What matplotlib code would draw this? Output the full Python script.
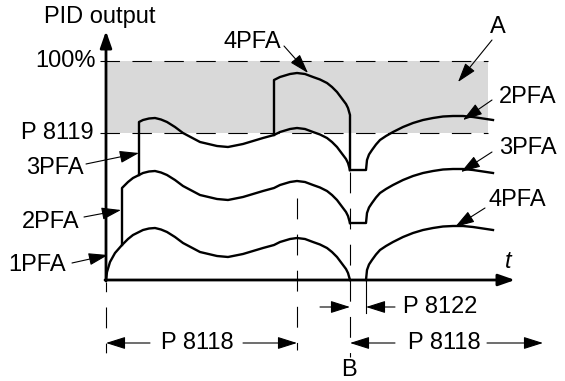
import matplotlib.pyplot as plt
import numpy as np

plt.rcParams['font.family'] = ['Liberation Sans', 'DejaVu Sans']
plt.rcParams['lines.scale_dashes'] = False

# diagram frame: x grows right, y grows down (same units as the sheet)
# shape of the PID output while one pump runs (1PFA)
base_x = [106, 107, 110, 115, 122, 128, 133, 139, 143, 149, 155, 161, 167, 175,
          183, 200, 217, 228, 243, 263, 274, 280, 290, 297, 305, 313, 320, 327,
          332, 337, 343, 346, 348, 350]
base_y = [280, 272, 262, 253, 245, 239, 235, 232, 230, 228.5, 228, 229.5, 232, 237,
          243, 252, 256, 257, 254, 248, 245, 242, 239, 238, 239, 242, 244.5, 248,
          252, 257, 265, 269, 273, 280]

# recovery after the autochange stop (B)
rec_x = [366, 367, 369, 372, 376, 380, 386, 393, 403, 413, 423, 433, 443, 453,
         463, 473, 483, 493]
rec_y = [280, 270, 264.5, 260, 254.5, 250, 246, 242, 237, 233, 230, 228, 226.5, 226,
         226, 227, 228.5, 230]

stage_start = [106, 122, 139, 274]   # where 1PFA..4PFA start
stage_lift = [0, 57, 110, 165]       # how far each pump lifts the curve
rec_lift = [0, 57, 110]

y_full = 61     # 100%
y_p8119 = 133
x_axis_y = 280
x_stop = 350    # B
x_restart = 366
x_p8118 = 297

base_x = np.array(base_x)
base_y = np.array(base_y)
rec_x = np.array(rec_x)
rec_y = np.array(rec_y)

fig = plt.figure(figsize=(5.65, 3.81), dpi=100)
ax = fig.add_axes([0, 0, 1, 1])
ax.set_xlim(0, 565)
ax.set_ylim(381, 0)
ax.axis('off')

FS = 17
lw_curve = 1.7

# grey band between P 8119 and 100%
ax.fill_between([106, 488], y_full, y_p8119, color='#d9d9d9', lw=0, zorder=0)
for yy in (y_full, y_p8119):
    ax.plot([100, 488], [yy, yy], color='black', lw=0.8, ls=(0, (14, 9)), zorder=1)

# curves for each stage
for i, (xs, lift) in enumerate(zip(stage_start, stage_lift)):
    m = base_x >= xs
    xx = list(base_x[m])
    yy = list(base_y[m] - lift)
    if i > 0:
        y0 = base_y[base_x == xs][0] - stage_lift[i - 1]
        xx = [xs] + xx
        yy = [y0] + yy
    if i == 3:
        # drop back at B to the 3PFA level
        xx.append(x_stop)
        yy.append(base_y[-1] - stage_lift[2])
    ax.plot(xx, yy, color='black', lw=lw_curve, solid_joinstyle='round', zorder=3)

# flats and recovery after B
for lift in rec_lift:
    xx = list(rec_x)
    yy = list(rec_y - lift)
    if lift > 0:
        xx = [x_stop] + xx
        yy = [base_y[-1] - lift] + yy
    ax.plot(xx, yy, color='black', lw=lw_curve, solid_joinstyle='round', zorder=3)

# axes
ax.annotate('', xy=(106, 31), xytext=(106, x_axis_y + 1),
            arrowprops=dict(arrowstyle='-|>,head_length=1.0,head_width=0.35',
                            color='black', lw=2, shrinkA=0, shrinkB=0,
                            mutation_scale=10), zorder=4)
ax.annotate('', xy=(515, x_axis_y), xytext=(105, x_axis_y),
            arrowprops=dict(arrowstyle='-|>,head_length=1.0,head_width=0.35',
                            color='black', lw=2, shrinkA=0, shrinkB=0,
                            mutation_scale=10), zorder=4)

# vertical dashed guides
dash_v = (0, (15, 11))
ax.plot([106, 106], [282, 354], color='black', lw=0.8, ls=(0, (7, 11, 15, 11)))
ax.plot([x_p8118, x_p8118], [198, 350], color='black', lw=0.8, ls=dash_v)
ax.plot([x_stop, x_stop], [172, 357], color='black', lw=0.8, ls=dash_v)
ax.plot([x_restart, x_restart], [280, 313], color='black', lw=0.8)


def arrow(tip, tail):
    ax.annotate('', xy=tip, xytext=tail,
                arrowprops=dict(arrowstyle='-|>,head_length=1.2,head_width=0.38',
                                color='black', lw=0.8, shrinkA=0, shrinkB=0,
                                mutation_scale=10), zorder=5)


# label arrows
arrow((139, 153), (86, 164))
arrow((121, 210), (84, 217))
arrow((108, 255), (72, 263))
arrow((308, 73), (284, 46))
arrow((458, 82), (492, 40))
arrow((463, 120), (492, 100))
arrow((461, 172), (492, 152))
arrow((455, 227), (485, 208))

# dimension arrows
arrow((x_stop, 307), (320, 307))
arrow((x_restart, 307), (395, 307))
arrow((106, 343), (150, 343))
arrow((x_p8118, 343), (243, 343))
arrow((x_stop, 343), (395, 343))
arrow((543, 343), (487, 343))

# texts
ax.text(100, 17, 'PID output', ha='center', va='center', fontsize=FS)
ax.text(96, y_full, '100%', ha='right', va='center', fontsize=FS)
ax.text(94, y_p8119, 'P 8119', ha='right', va='center', fontsize=FS)
ax.text(55, 168, '3PFA', ha='center', va='center', fontsize=FS)
ax.text(51, 222, '2PFA', ha='center', va='center', fontsize=FS)
ax.text(37, 265, '1PFA', ha='center', va='center', fontsize=FS)
ax.text(252, 42, '4PFA', ha='center', va='center', fontsize=FS)
ax.text(498, 27, 'A', ha='center', va='center', fontsize=FS)
ax.text(528, 97, '2PFA', ha='center', va='center', fontsize=FS)
ax.text(528, 148, '3PFA', ha='center', va='center', fontsize=FS)
ax.text(517, 200, '4PFA', ha='center', va='center', fontsize=FS)
ax.text(508, 262, 't', ha='center', va='center', fontsize=FS, style='italic')
ax.text(440, 307, 'P 8122', ha='center', va='center', fontsize=FS)
ax.text(197, 343, 'P 8118', ha='center', va='center', fontsize=FS)
ax.text(444, 343, 'P 8118', ha='center', va='center', fontsize=FS)
ax.text(349, 370, 'B', ha='center', va='center', fontsize=FS)

fig.savefig('out.png', dpi=100)
